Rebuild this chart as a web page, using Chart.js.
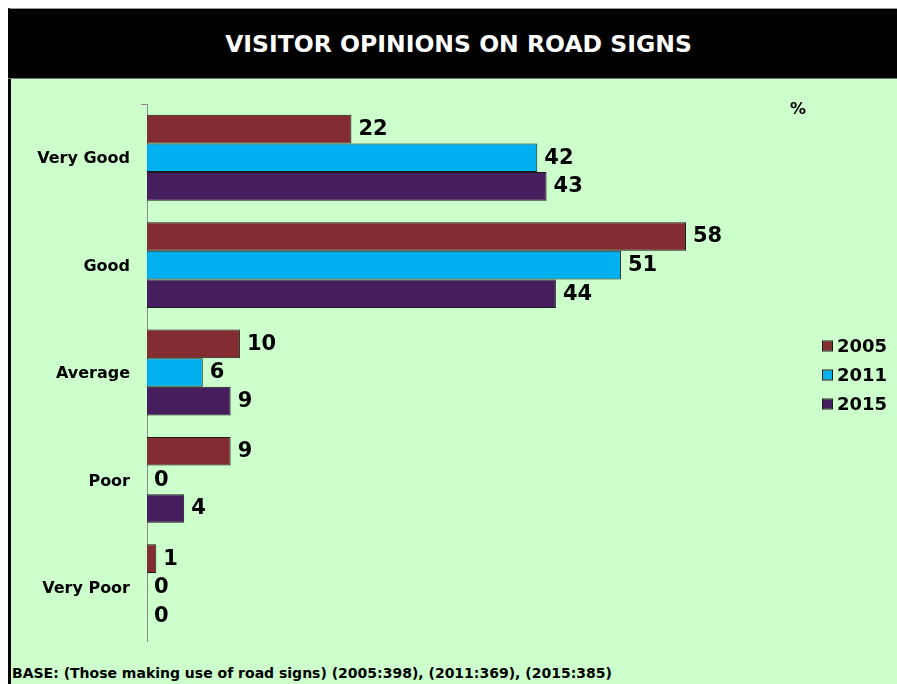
<!DOCTYPE html>
<html>
<head>
<meta charset="utf-8">
<title>Visitor opinions on road signs</title>
<script src="https://cdn.jsdelivr.net/npm/chart.js@4.4.0/dist/chart.umd.min.js"></script>
<style>
  html, body { margin: 0; padding: 0; background: #fff; }
  body { width: 897px; height: 684px; position: relative; overflow: hidden; font-family: "DejaVu Sans", Verdana, sans-serif; }
  .frame {
    position: absolute; left: 8px; top: 8px; right: 0; bottom: 0;
    background: #ccffcc; border-left: 3px solid #000; border-top: 1px solid #999;
  }
  .header {
    position: absolute; left: -3px; top: 0; right: 0; height: 69px;
    background: #000; border-bottom: 1px solid #777;
    color: #fff; font-weight: bold; font-size: 23.5px;
    display: flex; align-items: center; justify-content: center;
    padding-left: 12px;
  }
  #chart { position: absolute; left: 11px; top: 79px; }
  .base {
    position: absolute; left: 12px; top: 665px;
    font-size: 14px; font-weight: bold; color: #000; white-space: nowrap;
  }
</style>
</head>
<body>
<div class="frame">
  <div class="header">VISITOR OPINIONS ON ROAD SIGNS</div>
</div>
<canvas id="chart" width="886" height="581"></canvas>
<div class="base">BASE: (Those making use of road signs) (2005:398), (2011:369), (2015:385)</div>

<script>
// ── Data ──────────────────────────────────────────────────────
const categories = ["Very Good", "Good", "Average", "Poor", "Very Poor"];
const years      = ["2005", "2011", "2015"];
const values2005 = [22, 58, 10, 9, 1];
const values2011 = [42, 51, 6, 0, 0];
const values2015 = [43, 44, 9, 4, 0];

const COLORS = {
  y2005:  "#832c32",
  y2011:  "#00b0f0",
  y2015:  "#461e5e",
  border: "#1a1a1a",
  axis:   "#8c8c8c",
  text:   "#000",
};

const FONT = "'DejaVu Sans', Verdana, sans-serif";

// value labels at the end of each bar
const barLabels = {
  id: "barLabels",
  afterDatasetsDraw(chart) {
    const { ctx } = chart;
    ctx.save();
    ctx.font = `bold 21px ${FONT}`;
    ctx.fillStyle = COLORS.text;
    ctx.textAlign = "left";
    ctx.textBaseline = "middle";
    chart.data.datasets.forEach((ds, i) => {
      chart.getDatasetMeta(i).data.forEach((bar, j) => {
        ctx.fillText(String(ds.data[j]), bar.x + 7, bar.y + 0.5);
      });
    });
    ctx.restore();
  }
};

// legend on the right, unit mark and the single top tick on the axis
const extras = {
  id: "extras",
  afterDraw(chart) {
    const { ctx, chartArea } = chart;
    ctx.save();

    ctx.strokeStyle = COLORS.axis;
    ctx.lineWidth = 1;
    ctx.beginPath();
    ctx.moveTo(chartArea.left - 6, chartArea.top + 0.5);
    ctx.lineTo(chartArea.left, chartArea.top + 0.5);
    ctx.stroke();

    ctx.fillStyle = COLORS.text;
    ctx.font = `bold 16px ${FONT}`;
    ctx.textAlign = "center";
    ctx.textBaseline = "middle";
    ctx.fillText("%", 787, 31);

    ctx.font = `bold 18px ${FONT}`;
    ctx.textAlign = "left";
    chart.data.datasets.forEach((ds, i) => {
      const y = 267 + i * 29;
      ctx.fillStyle = ds.backgroundColor;
      ctx.fillRect(812, y - 4.5, 9, 9);
      ctx.strokeStyle = COLORS.border;
      ctx.strokeRect(811.5, y - 5, 10, 10);
      ctx.fillStyle = COLORS.text;
      ctx.fillText(ds.label, 826, y + 1);
    });
    ctx.restore();
  }
};

const series = [values2005, values2011, values2015];
const fills  = [COLORS.y2005, COLORS.y2011, COLORS.y2015];

new Chart(document.getElementById("chart"), {
  type: "bar",
  data: {
    labels: categories,
    datasets: years.map((y, i) => ({
      label: y,
      data: series[i],
      backgroundColor: fills[i],
      borderColor: COLORS.border,
      borderWidth: 1,
      categoryPercentage: 0.8,
      barPercentage: 1.0,
    }))
  },
  options: {
    indexAxis: "y",
    responsive: false,
    animation: false,
    layout: { padding: { top: 25, bottom: 19, left: 0, right: 99.5 } },
    plugins: {
      legend: { display: false },
      tooltip: { enabled: false },
    },
    scales: {
      x: {
        display: false,
        min: 0, max: 70,
      },
      y: {
        afterFit: s => {
          s.width = 136;
          s.paddingTop = 0;
          s.paddingBottom = 0;
        },
        grid: { display: false, drawTicks: false },
        border: { display: true, color: COLORS.axis, width: 1 },
        ticks: {
          color: COLORS.text,
          padding: 17,
          labelOffset: 1.5,
          font: { family: FONT, size: 16, weight: "bold" },
        },
      }
    }
  },
  plugins: [barLabels, extras]
});
</script>
</body>
</html>
